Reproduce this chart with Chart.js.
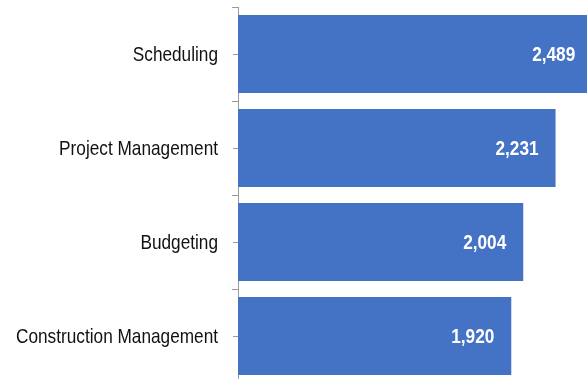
<!DOCTYPE html>
<html>
<head>
<meta charset="utf-8">
<title>Top skills</title>
<script src="https://cdn.jsdelivr.net/npm/chart.js@4/dist/chart.umd.min.js"></script>
<style>
  html, body { margin: 0; padding: 0; overflow: hidden; background: #ffffff; }
  #wrap { position: absolute; left: 0; top: 0; width: 665px; height: 383px; }
</style>
</head>
<body>
<div id="wrap"><canvas id="chart"></canvas></div>
<script>
// Categories and their counts, top to bottom
const categories = ['Scheduling', 'Project Management', 'Budgeting', 'Construction Management'];
const counts = [2489, 2231, 2004, 1920];

const FONT = "'Liberation Sans', Arial, sans-serif";
const NARROW = 0.82;           // horizontal squeeze for a narrow face
const BAR_BLUE = '#4472C4';
const AXIS_GREY = '#9a9a9a';

// Draw text squeezed horizontally, anchored at its right edge
function narrowText(ctx, text, x, y) {
  ctx.save();
  ctx.translate(x, y);
  ctx.scale(NARROW, 1);
  ctx.textAlign = 'right';
  ctx.textBaseline = 'middle';
  ctx.fillText(text, 0, 0);
  ctx.restore();
}

// Category labels and short centre tick marks on the y axis
const categoryAxis = {
  id: 'categoryAxis',
  afterDraw(chart) {
    const y = chart.scales.y;
    const ctx = chart.ctx;
    const left = chart.chartArea.left;
    ctx.save();
    ctx.strokeStyle = AXIS_GREY;
    ctx.lineWidth = 1;
    ctx.fillStyle = '#111111';
    ctx.font = '21px ' + FONT;
    y.ticks.forEach((t, i) => {
      const py = y.getPixelForTick(i);
      const ly = Math.round(py) + 0.5;
      ctx.beginPath();
      ctx.moveTo(left - 5, ly);
      ctx.lineTo(left, ly);
      ctx.stroke();
      narrowText(ctx, chart.data.labels[i], left - 20, py + 1);
    });
    ctx.restore();
  }
};

// Value labels inside the end of each bar
const valueLabels = {
  id: 'valueLabels',
  afterDatasetsDraw(chart) {
    const ctx = chart.ctx;
    const meta = chart.getDatasetMeta(0);
    ctx.save();
    ctx.fillStyle = '#ffffff';
    ctx.font = 'bold 21px ' + FONT;
    meta.data.forEach((bar, i) => {
      const v = chart.data.datasets[0].data[i];
      narrowText(ctx, v.toLocaleString('en-US'), bar.x - 17, bar.y + 1);
    });
    ctx.restore();
  }
};

new Chart(document.getElementById('chart'), {
  type: 'bar',
  data: {
    labels: categories,
    datasets: [{
      data: counts,
      backgroundColor: BAR_BLUE,
      borderWidth: 0,
      categoryPercentage: 1.0,
      barPercentage: 0.83
    }]
  },
  options: {
    indexAxis: 'y',
    responsive: true,
    maintainAspectRatio: false,
    animation: false,
    devicePixelRatio: 1,
    layout: { padding: { top: 7, right: 0, bottom: 0, left: 0 } },
    plugins: {
      legend: { display: false },
      tooltip: { enabled: false }
    },
    scales: {
      x: {
        display: false,
        min: 0,
        max: 3000
      },
      y: {
        offset: true,
        afterFit(scale) {
          scale.width = 238;
          scale.paddingTop = 0;
          scale.paddingBottom = 0;
        },
        border: { display: true, color: AXIS_GREY, width: 1 },
        grid: {
          offset: true,
          drawOnChartArea: false,
          drawTicks: true,
          tickLength: 6,
          color: AXIS_GREY
        },
        ticks: { display: false }
      }
    }
  },
  plugins: [categoryAxis, valueLabels]
});
</script>
</body>
</html>
